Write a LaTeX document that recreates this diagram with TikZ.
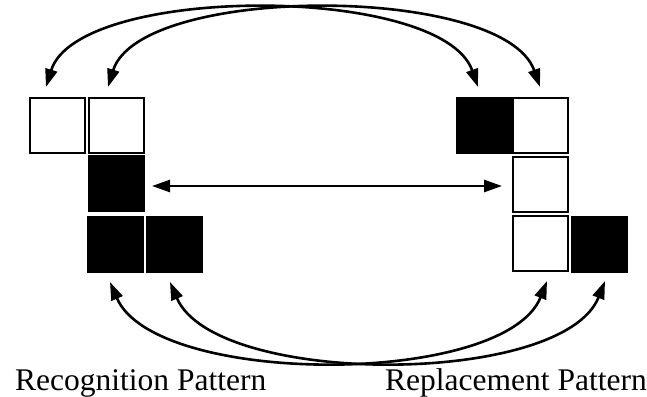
\documentclass[tikz,border=0pt]{standalone}
\usepackage{fontspec}
\setmainfont{Liberation Serif}
\usetikzlibrary{arrows.meta}
\begin{document}
\begin{tikzpicture}[x=1pt,y=-1pt,
  cell/.style={draw=black, line width=2pt, minimum width=55pt, minimum height=55pt, inner sep=0pt, fill=white},
  blk/.style={cell, fill=black},
  link/.style={line width=2.6pt, {Triangle[length=18pt,width=12pt]}-{Triangle[length=18pt,width=12pt]}},
  lbl/.style={anchor=base west, inner sep=0pt, font=\fontsize{31.5}{36}\selectfont}]
\useasboundingbox (0,0) rectangle (647,396);
% recognition pattern
\node[cell] (L1) at (57.5,125) {};
\node[cell] (L2) at (116,125) {};
\node[blk]  (L3) at (116.5,183.5) {};
\node[blk]  (L4) at (115,244) {};
\node[blk]  (L5) at (174,244) {};
% replacement pattern
\node[blk]  (R1) at (484,125.5) {};
\node[cell] (R2) at (540.5,125) {};
\node[cell] (R3) at (540,184.5) {};
\node[cell] (R4) at (540,243.5) {};
\node[blk]  (R5) at (599,244) {};
% arrow end points
\coordinate (t1) at (46,87);
\coordinate (t2) at (108,87);
\coordinate (t3) at (478,87);
\coordinate (t4) at (540,87);
\coordinate (b1) at (110,282);
\coordinate (b2) at (170,282);
\coordinate (b3) at (547,281);
\coordinate (b4) at (605,281);
\coordinate (h1) at (152,186);
\coordinate (h2) at (502,186);
% connectors
\draw[link] (t1) .. controls (78,-16) and (442,-16) .. (t3);
\draw[link] (t2) .. controls (140,-16) and (504,-16) .. (t4);
\draw[link] (h1) -- (h2);
\draw[link] (b1) .. controls (155,387) and (505,387) .. (b3);
\draw[link] (b2) .. controls (215,387) and (563,387) .. (b4);
% labels
\node[lbl] (recog) at (15,390) {Recognition Pattern};
\node[lbl] (repl) at (385,390) {Replacement Pattern};
\end{tikzpicture}
\end{document}
